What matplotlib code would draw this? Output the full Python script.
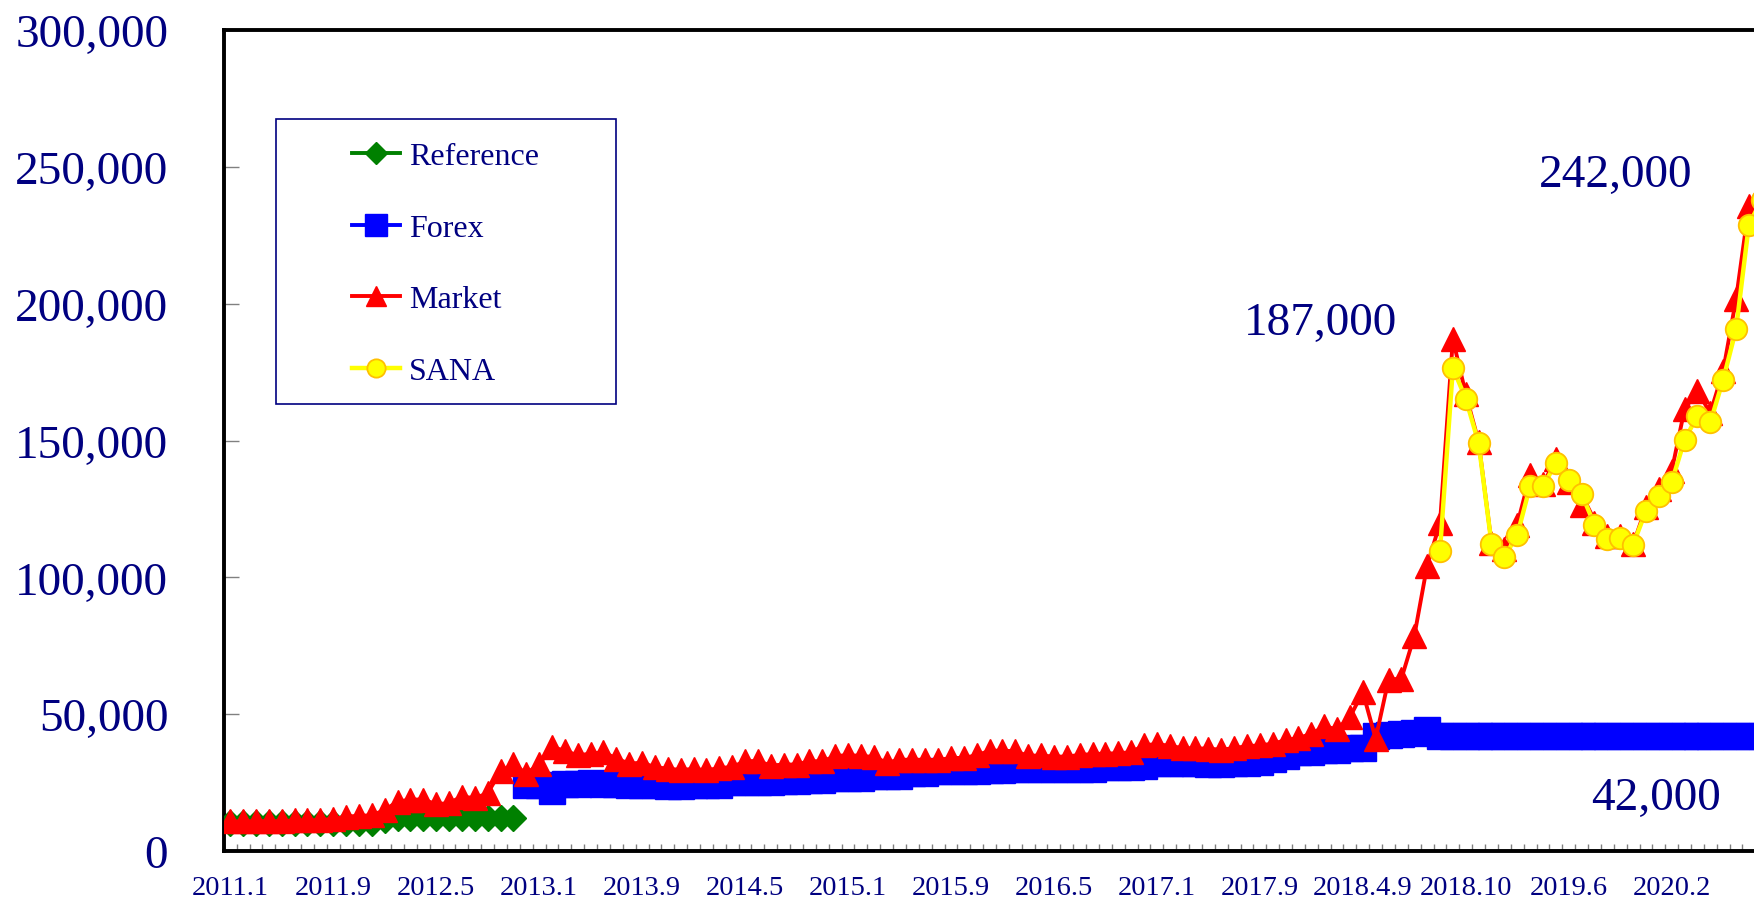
import numpy as np
import matplotlib
matplotlib.use('Agg')
import matplotlib.pyplot as plt
from matplotlib.patches import Rectangle
from matplotlib.ticker import FuncFormatter

# Category axis labels (one label every 8 categories)
x_labels = ['2011.1', '2011.9', '2012.5', '2013.1', '2013.9', '2014.5', '2015.1',
            '2015.9', '2016.5', '2017.1', '2017.9', '2018.4.9', '2018.10',
            '2019.6', '2020.2']
label_step = 8
n_cats = 122

# Series values, each starts at its own category
reference_start = 0
reference = [10100, 10100, 10100, 10100, 10100, 10100, 10100, 10100, 10100, 10200,
             10200, 10300, 11300, 12000, 12200, 12200, 12000, 12000, 12100, 12200,
             12200, 12100, 12100]

forex_start = 23
forex = [24100, 24100, 21800,
         24600, 24600, 24700, 24500, 24300, 24200, 24000, 24000, 23900, 23900,
         24000, 24000, 24200,
         25100, 25200, 25100, 25200, 25700, 25700, 25800, 25800, 26700, 26800,
         26700, 27500, 27400, 27500, 28400, 28400, 29100, 29100, 29200, 29200,
         29600, 29700,
         29900, 29900, 29900, 29900, 30000, 30000, 30000, 30600, 30600, 30700,
         31200, 32100, 32100, 32100, 32000, 31900, 31900, 32000, 32100, 32400,
         33600, 34800, 36100, 36100, 36900, 36900, 37600, 37700,
         42000, 42300, 42600, 43000, 44200,
         42000, 42000, 42000, 42000, 42000, 42000, 42000, 42000, 42000, 42000,
         42000, 42000, 42000, 42000, 42000, 42000, 42000, 42000, 42000, 42000,
         42000, 42000, 42000, 42000, 42000, 42000]

market_start = 0
market = [10800, 10800, 10900, 10900, 10900, 11200, 11200, 11300, 11700, 12500,
          12900, 13000, 15000, 18000, 18800, 18800, 17100, 17500, 19900, 19300,
          21100, 29100, 31700, 28300, 31700, 37900, 36700, 34900, 35600, 36100,
          33800, 31900, 32300, 30600, 30100, 29600, 30000, 29500, 30300, 30700,
          32800, 32900, 31200, 31600, 31600, 32800, 32800, 34600, 35100, 34700,
          34400, 32300, 33300, 33400, 33300, 33200, 34000, 34000, 35000, 36600,
          36700, 36400, 34800, 34900, 34500, 34500, 35100, 35400, 35600, 35700,
          36100, 38600, 39100, 38400, 37600, 37500, 37400, 37000, 37600, 38300,
          38600, 39200, 40500, 41300, 42800, 45500, 44500, 48900, 58100, 41000,
          62600, 63000, 78500, 104300, 119800, 187000, 167000, 149500, 112500, 110300,
          119300, 137500, 134000, 143300, 135000, 126500, 119900, 115100, 115100, 112000,
          125600, 132100, 138800, 161400, 168100, 160000, 175400, 201600, 235700, 242000]

sana_start = 94
sana = [109800, 176500, 165300, 149000, 112300, 107500, 115400, 133400, 133200, 141700,
        135400, 130500, 119300, 114100, 114400, 111900, 124200, 129900, 134800, 150200,
        159000, 156600, 172200, 190600, 228900, 238000]

callouts = [('187,000', 1320, 324), ('242,000', 1616, 176), ('42,000', 1656, 799)]

plt.rcParams['font.family'] = ['Liberation Serif', 'DejaVu Serif']
NAVY = '#000080'
W, H = 1754, 904

fig = plt.figure(figsize=(W / 100, H / 100), dpi=100)
cat_w = 12.87
left_px, bottom_px, top_px = 223.8, 852, 31
ax = fig.add_axes([left_px / W, 1 - bottom_px / H, n_cats * cat_w / W, (bottom_px - top_px) / H])


def xs(start, vals):
    return np.arange(start, start + len(vals))


ax.plot(xs(reference_start, reference), reference, color='#008000', lw=2.8,
        marker='D', ms=13, mec='#008000', label='Reference', zorder=3)
ax.plot(xs(forex_start, forex), forex, color='#0000FF', lw=2.8,
        marker='s', ms=19, mec='#0000FF', label='Forex', zorder=4)
ax.plot(xs(market_start, market), market, color='#FF0000', lw=2.8,
        marker='^', ms=17, mec='#FF0000', label='Market', zorder=5)
ax.plot(xs(sana_start, sana), sana, color='#FFFF00', lw=3.2,
        marker='o', ms=15.5, mfc='#FFFF00', mec='#FFC000', mew=1.3, label='SANA', zorder=6)

ax.set_xlim(-0.5, n_cats - 0.5)
ax.set_ylim(0, 300000)

# y axis
ax.set_yticks(np.arange(0, 300001, 50000))
ax.yaxis.set_major_formatter(FuncFormatter(lambda v, p: '{:,.0f}'.format(v)))
ax.tick_params(axis='y', direction='in', length=11, width=1, color='#808080',
               pad=40, labelsize=34, labelcolor=NAVY)

# x axis: labels at every 8th category, small ticks between categories
ax.set_xticks(np.arange(len(x_labels)) * label_step)
ax.set_xticklabels(x_labels)
ax.set_xticks(np.arange(-0.5, n_cats, 1), minor=True)
ax.tick_params(axis='x', which='major', length=0, pad=17, labelsize=20.5, labelcolor=NAVY)
ax.tick_params(axis='x', which='minor', direction='in', length=5, width=1, color='#808080')

for s in ['top', 'left', 'bottom']:
    ax.spines[s].set_linewidth(2.8)
    ax.spines[s].set_color('black')
ax.spines['right'].set_visible(False)

# legend (frame drawn separately)
ax.legend(loc='upper left', bbox_to_anchor=(336 / W, 1 - 127 / H),
          bbox_transform=fig.transFigure, frameon=False, borderpad=0,
          handlelength=1.5, handletextpad=0.28, labelspacing=1.32,
          fontsize=23, markerscale=0.85, labelcolor=NAVY)
fig.add_artist(Rectangle((276 / W, 1 - 405 / H), 340 / W, 285 / H,
                         transform=fig.transFigure, fill=False,
                         edgecolor=NAVY, lw=1.2))

for txt, px, py in callouts:
    fig.text(px / W, 1 - py / H, txt, ha='center', va='center',
             fontsize=34, color=NAVY)

fig.savefig('out.png', dpi=100)
